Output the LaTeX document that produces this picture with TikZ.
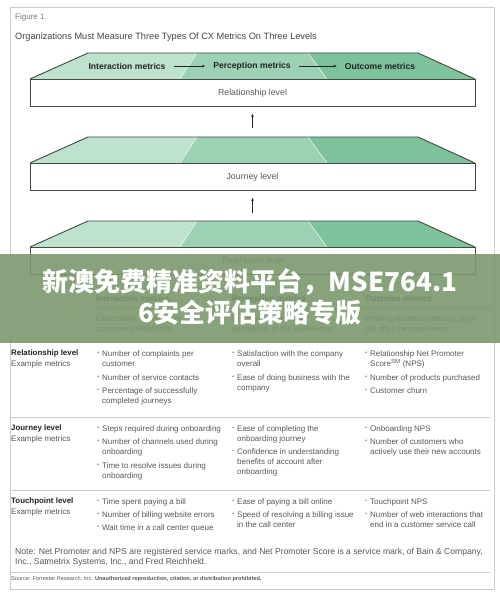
\documentclass[tikz,border=0pt]{standalone}
\usepackage{fontspec}
\setmainfont{Liberation Sans}
\newfontfamily\cjkfont{Noto Sans CJK SC}
\usetikzlibrary{positioning}
\usetikzlibrary {arrows.meta}
\definecolor{segA}{RGB}{191,226,207}
\definecolor{segB}{RGB}{157,209,180}
\definecolor{segC}{RGB}{125,194,155}
\definecolor{edgegrey}{RGB}{62,76,68}
\definecolor{txtgrey}{RGB}{88,88,88}
\definecolor{inkgrey}{RGB}{35,35,35}
\definecolor{rulegrey}{RGB}{205,205,205}
\definecolor{bandgreen}{RGB}{124,152,110}
\tikzset{levelbox/.style={rectangle,draw=edgegrey,line width=0.9pt,fill=white,
inner sep=0pt,minimum height=27pt, minimum width=445pt,text=txtgrey,font=\fontsize{8.8}{10}\selectfont}}
\tikzset{slabhead/.style={inner sep=0pt,text=inkgrey,font=\bfseries\fontsize{8.6}{10}\selectfont}}
\tikzset{flowarrow/.style={line width=0.6pt,draw=inkgrey,-{Stealth[length=3pt,width=2.6pt]}}}
\tikzset{cell/.style={anchor=north west,align=left,inner sep=0pt,text=txtgrey,
font=\fontsize{8}{10}\selectfont}}
\tikzset{rowhead/.style={cell,text=inkgrey,font=\bfseries\fontsize{7.9}{10}\selectfont}}
\tikzset{metric/.style={cell,label={[cell,anchor=north east,xshift=-2pt]north west:\vphantom{N}\textbf{\textperiodcentered}}}}
\tikzset{wmtext/.style={inner sep=0pt,text=white,font=\cjkfont\bfseries\fontsize{26}{30}\selectfont}}

\begin{document}
\begin{tikzpicture}[x=1pt,y=-1pt]
        \useasboundingbox (0,0) rectangle (500,599);
        \fill[white] (0,0) rectangle (500,599);
        \draw[rulegrey,line width=0.7pt] (10,7) rectangle (494,589);

        \node[cell,text=txtgrey!80,font=\fontsize{8}{9}\selectfont] (figno) at (15,14) {Figure 1};
        \node[cell,text=inkgrey!85,font=\fontsize{9.2}{10}\selectfont] (figtitle) at (15,33) {Organizations Must Measure Three Types Of CX Metrics On Three Levels};

        % three levels
        \foreach \lvl/\yt/\txt in {rel/79/Relationship level,jour/163/Journey level,touch/247/Touchpoint level}{
            \fill[segA] (30,\yt) -- (88,\yt-26) -- (197,\yt-26) -- (180,\yt) -- cycle;
            \fill[segB] (180,\yt) -- (197,\yt-26) -- (308,\yt-26) -- (327,\yt) -- cycle;
            \fill[segC] (327,\yt) -- (308,\yt-26) -- (418,\yt-26) -- (475,\yt) -- cycle;
            \draw[white!85!segA,line width=0.5pt] (180,\yt) -- (197,\yt-26) (327,\yt) -- (308,\yt-26);
            \draw[edgegrey,line width=0.9pt,line join=round] (30,\yt) -- (88,\yt-26) -- (418,\yt-26) -- (475,\yt);
            \coordinate (\lvl top) at (252.5,\yt-26);
            \node[levelbox,anchor=north] (\lvl box) at (252.5,\yt) {\txt};
        }

        \node[slabhead] (intmet) at (127,66) {Interaction metrics};
        \node[slabhead] (permet) at (252,66) {Perception metrics};
        \node[slabhead] (outmet) at (380,66) {Outcome metrics};
        \draw[flowarrow,shorten <=8pt,shorten >=8pt] (intmet) -- (permet);
        \draw[flowarrow,shorten <=8pt,shorten >=8pt] (permet) -- (outmet);

        \draw[flowarrow,shorten <=9pt,shorten >=7pt] (jourtop) -- (relbox.south);
        \draw[flowarrow,shorten <=8pt,shorten >=7pt] (touchtop) -- (jourbox.south);

        % table header
        \node[rowhead,font=\bfseries\fontsize{8.2}{10}\selectfont] (hdint) at (96,295) {Interaction metrics};
        \node[rowhead,font=\bfseries\fontsize{8.2}{10}\selectfont] (hdper) at (232,295) {Perception metrics};
        \node[rowhead,font=\bfseries\fontsize{8.2}{10}\selectfont] (hdout) at (365,295) {Outcome metrics};
        \draw[rulegrey!80!black,line width=0.5pt] (96,308) -- (490,308);
        \node[cell] (dsint) at (96,315) {Observable elements of\\customer interactions};
        \node[cell] (dsper) at (232,315) {Customers' view and\\perception of the experience};
        \node[cell] (dsout) at (365,315) {What customers intend to do or\\did after the experience};
        \draw[rulegrey,line width=0.7pt] (11,341) -- (490,341);

        % relationship row
        \node[rowhead] (relhd) at (11,350) {Relationship level};
        \node[cell] (relex) at (11,360) {Example metrics};
        \node[metric] (relia) at (102,350) {Number of complaints per\\customer};
        \node[metric] (relib) at (102,374) {Number of service contacts};
        \node[metric] (relic) at (102,387) {Percentage of successfully\\completed journeys};
        \node[metric] (relpa) at (237,350) {Satisfaction with the company\\overall};
        \node[metric] (relpb) at (237,374) {Ease of doing business with the\\company};
        \node[metric] (reloa) at (370,350) {Relationship Net Promoter\\Score\textsuperscript{SM} (NPS)};
        \node[metric] (relob) at (370,374) {Number of products purchased};
        \node[metric] (reloc) at (370,387) {Customer churn};
        \draw[rulegrey,line width=0.7pt] (11,417) -- (490,417);

        % journey row
        \node[rowhead] (jourhd) at (11,425) {Journey level};
        \node[cell] (jourex) at (11,435) {Example metrics};
        \node[metric] (jouria) at (102,425) {Steps required during onboarding};
        \node[metric] (jourib) at (102,438) {Number of channels used during\\onboarding};
        \node[metric] (jouric) at (102,462) {Time to resolve issues during\\onboarding};
        \node[metric] (jourpa) at (237,425) {Ease of completing the\\onboarding journey};
        \node[metric] (jourpb) at (237,448) {Confidence in understanding\\benefits of account after\\onboarding};
        \node[metric] (jouroa) at (370,425) {Onboarding NPS};
        \node[metric] (jourob) at (370,438) {Number of customers who\\actively use their new accounts};
        \draw[rulegrey,line width=0.7pt] (11,490) -- (490,490);

        % touchpoint row
        \node[rowhead] (touchhd) at (11,498) {Touchpoint level};
        \node[cell] (touchex) at (11,508) {Example metrics};
        \node[metric] (touchia) at (102,498) {Time spent paying a bill};
        \node[metric] (touchib) at (102,511) {Number of billing website errors};
        \node[metric] (touchic) at (102,524) {Wait time in a call center queue};
        \node[metric] (touchpa) at (237,498) {Ease of paying a bill online};
        \node[metric] (touchpb) at (237,511) {Speed of resolving a billing issue\\in the call center};
        \node[metric] (touchoa) at (370,498) {Touchpoint NPS};
        \node[metric] (touchob) at (370,511) {Number of web interactions that\\end in a customer service call};

        \node[cell,font=\fontsize{8.6}{10.5}\selectfont] (note) at (15,548) {Note: Net Promoter and NPS are registered service marks, and Net Promoter Score is a service mark, of Bain \& Company,\\Inc., Satmetrix Systems, Inc., and Fred Reichheld.};
        \draw[rulegrey,line width=0.7pt] (11,572) -- (490,572);
        \node[cell,font=\fontsize{5.6}{6}\selectfont] (source) at (11,576) {Source: Forrester Research, Inc. \textbf{Unauthorized reproduction, citation, or distribution prohibited.}};

        % overlay band
        \fill[bandgreen,opacity=0.9] (0,254) rectangle (500,343);
        \node[wmtext] (wmone) at (250,282) {新澳免费精准资料平台，MSE764.1};
        \node[wmtext] (wmtwo) at (250,313) {6安全评估策略专版};
\end{tikzpicture}
\end{document}
